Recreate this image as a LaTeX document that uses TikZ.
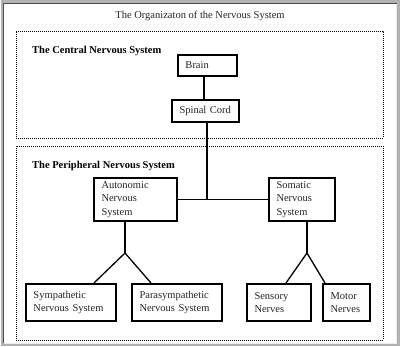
\documentclass[tikz,border=0pt]{standalone}
\usepackage{fontspec}
\setmainfont{Liberation Serif}
\begin{document}
\begin{tikzpicture}[x=1pt,y=-1pt,
  box/.style={draw=black, line width=2.4pt, inner xsep=7.3pt, inner ysep=0pt,
    align=left, font=\fontsize{10.5}{13.5}\selectfont, anchor=center, text=black!85},
  link/.style={line width=1.3pt},
  region/.style={draw, line width=0.9pt, dash pattern=on 0.9pt off 1.1pt, inner sep=0pt},
  lbl/.style={font=\fontsize{10.5}{12}\selectfont\bfseries, anchor=base west, inner sep=0pt}]
\useasboundingbox (0,0) rectangle (400,347);
% window-like frame
\fill[black!30] (0.5,0.5) rectangle (399.5,346.5);
\fill[white] (3,3) rectangle (396.5,343.5);
\draw[line width=0.8pt, black!70] (3.4,343.5) -- (3.4,3.4) -- (396.5,3.4);
\draw[line width=0.8pt, black!8] (3.8,343.1) -- (396.1,343.1) -- (396.1,3.8);

\node[font=\fontsize{10.5}{12}\selectfont, anchor=base, inner sep=0pt, text=black!85] (title) at (200,18.5) {The Organizaton of the Nervous System};

% regions
\node[region, minimum width=367pt, minimum height=107pt] (cns) at (199.5,84.5) {};
\node[region, minimum width=367pt, minimum height=194pt] (pns) at (199.5,243) {};
\node[lbl] (cnslabel) at (32,53.5) {The Central Nervous System};
\node[lbl] (pnslabel) at (32,168.5) {The Peripheral Nervous System};

% boxes
\node[box, text width=44pt, minimum height=20.6pt] (brain) at (207.5,65.5) {Brain};
\node[box, text width=52pt, minimum height=21.6pt] (spinal) at (205.5,111) {Spinal Cord};
\node[box, text width=68pt, minimum height=42.6pt] (auto) at (135.5,199.5) {Autonomic\\Nervous\\System};
\node[box, text width=51pt, minimum height=42.6pt] (somatic) at (302,199.5) {Somatic\\Nervous\\System};
\node[box, text width=75pt, minimum height=36.6pt] (symp) at (71,302.5) {Sympathetic\\Nervous System};
\node[box, text width=75pt, minimum height=36.6pt] (para) at (177,302.5) {Parasympathetic\\Nervous System};
\node[box, text width=49pt, minimum height=36.6pt] (sensory) at (279,302.5) {Sensory\\Nerves};
\node[box, text width=32pt, minimum height=36.6pt] (motor) at (346.5,302.5) {Motor\\Nerves};

% connectors
\coordinate (aj) at (125,253);
\coordinate (sj) at (307,253);
\draw[link] ([xshift=-1.5pt]spinal.north) -- ([xshift=-1.5pt]spinal.north |- brain.south);
\draw[link] (auto.east) -- (somatic.west);
\draw[link] ([xshift=1.5pt]spinal.south) -- ([xshift=1.5pt]spinal.south |- auto.east);
\draw[link] (aj |- auto.south) -- (aj);
\draw[link] ([xshift=23pt]symp.north) -- (aj) -- ([xshift=-26pt]para.north);
\draw[link] (sj |- somatic.south) -- (sj);
\draw[link] ([xshift=7pt]sensory.north) -- (sj) -- ([xshift=-21.5pt]motor.north);
\end{tikzpicture}
\end{document}
